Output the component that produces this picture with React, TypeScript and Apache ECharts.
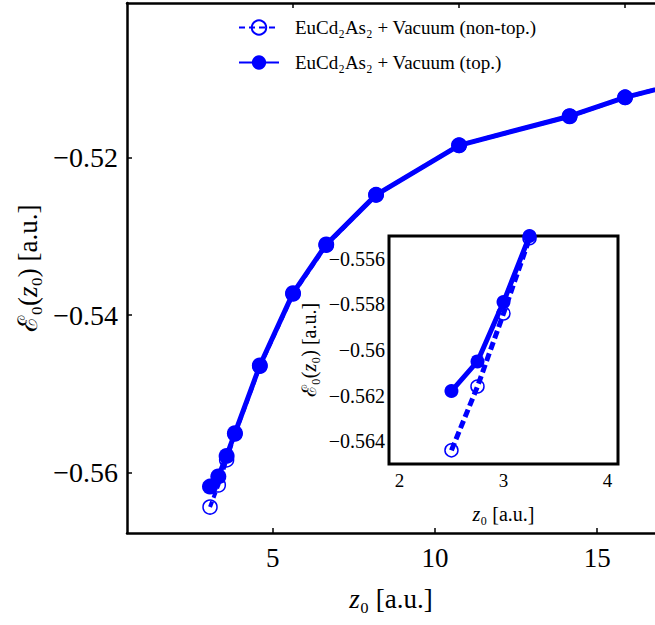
import React, { useEffect, useRef } from "react";
import * as echarts from "echarts";

// Data (z0 in a.u., energy in a.u.)
const zValues = [2.5, 2.75, 3.0, 3.25, 4, 5, 6, 7.5, 10, 13.33, 15, 20];
const energyTop = [-0.5618, -0.5605, -0.5579, -0.555, -0.5464, -0.5372, -0.531, -0.5247, -0.5184, -0.5147, -0.5123, -0.5069];
const energyNonTop = [-0.5644, -0.5616, -0.5584, -0.5551, -0.5465, -0.5373, -0.5311, -0.5247, -0.5184, -0.5147, -0.5123, -0.5069];

const mainXTicks = [5, 10, 15];
const mainYTicks = [-0.56, -0.54, -0.52];
const insetXTicks = [2, 3, 4];
const insetYTicks = [-0.564, -0.562, -0.56, -0.558, -0.556];

const nameNonTop = "EuCd₂As₂ + Vacuum (non-top.)";
const nameTop = "EuCd₂As₂ + Vacuum (top.)";

const BLUE = "#0000ff";
const FONT = "Liberation Serif";

const pairs = (ys: number[]) => zValues.map((z, i) => [z, ys[i]]);

const nameStyle = (size: number) => ({
  fontSize: size,
  color: "#000",
  fontFamily: FONT,
  rich: { i: { fontStyle: "italic", fontFamily: FONT, fontSize: size, color: "#000" } },
});

export default function App() {
  const ref = useRef<HTMLDivElement>(null);
  useEffect(() => {
    document.body.style.margin = "0";
    const chart = echarts.init(ref.current!, null, { renderer: "svg" });
    const axisLine = { show: true, lineStyle: { color: "#000", width: 2.5 } };
    const option: any = {
      animation: false,
      backgroundColor: "#fff",
      textStyle: { fontFamily: FONT, color: "#000" },
      grid: [
        { left: 127, top: 3, width: 528, height: 530 },
        {
          left: 389, top: 236, width: 229, height: 228, show: true,
          borderColor: "#000", borderWidth: 3, backgroundColor: "#fff", z: 5,
        },
      ],
      legend: {
        data: [nameNonTop, nameTop],
        orient: "vertical",
        left: 238,
        top: 18,
        padding: 0,
        itemWidth: 40,
        itemHeight: 18,
        itemGap: 16,
        selectedMode: false,
        textStyle: { fontFamily: FONT, fontSize: 19, color: "#000", padding: [0, 0, 0, 11] },
      },
      xAxis: [
        {
          gridIndex: 0, type: "value", position: "bottom", min: 0.513, max: 16.78,
          axisLine,
          axisTick: { show: true, inside: true, length: 5, lineStyle: { color: "#000", width: 1.5 }, customValues: mainXTicks },
          axisLabel: { customValues: mainXTicks, fontSize: 27, color: "#000", fontFamily: FONT, margin: 11 },
          splitLine: { show: false },
          name: "{i|z}₀ [a.u.]",
          nameLocation: "middle",
          nameGap: 52,
          nameTextStyle: nameStyle(27),
        },
        {
          gridIndex: 0, type: "value", position: "top", min: 0, max: 15.9,
          axisLine,
          axisTick: { show: true, inside: true, length: 5, lineStyle: { color: "#000", width: 1.5 }, customValues: mainXTicks },
          axisLabel: { show: false },
          splitLine: { show: false },
        },
        {
          gridIndex: 1, type: "value", position: "bottom", min: 1.9, max: 4.1,
          axisLine: { show: false },
          axisTick: { show: true, inside: true, length: 5, lineStyle: { color: "#000", width: 1.2 }, customValues: insetXTicks },
          axisLabel: { customValues: insetXTicks, fontSize: 19, color: "#000", fontFamily: FONT, margin: 7 },
          splitLine: { show: false },
          name: "{i|z}₀ [a.u.]",
          nameLocation: "middle",
          nameGap: 40,
          nameTextStyle: nameStyle(20),
        },
        {
          gridIndex: 1, type: "value", position: "top", min: 1.9, max: 4.1,
          axisLine: { show: false },
          axisTick: { show: true, inside: true, length: 5, lineStyle: { color: "#000", width: 1.2 }, customValues: insetXTicks },
          axisLabel: { show: false },
          splitLine: { show: false },
        },
      ],
      yAxis: [
        {
          gridIndex: 0, type: "value", position: "left", min: -0.5677, max: -0.5003,
          axisLine,
          axisTick: { show: true, inside: true, length: 5, lineStyle: { color: "#000", width: 1.5 }, customValues: mainYTicks },
          axisLabel: {
            customValues: mainYTicks, fontSize: 28, color: "#000", fontFamily: FONT, margin: 9,
            formatter: (v: number) => "−" + Math.abs(v).toFixed(2),
          },
          splitLine: { show: false },
          name: "ℰ₀({i|z}₀) [a.u.]",
          nameLocation: "middle",
          nameGap: 86,
          nameTextStyle: nameStyle(27),
        },
        {
          gridIndex: 1, type: "value", position: "left", min: -0.565, max: -0.555,
          axisLine: { show: false },
          axisTick: { show: true, inside: true, length: 5, lineStyle: { color: "#000", width: 1.2 }, customValues: insetYTicks },
          axisLabel: {
            customValues: insetYTicks, fontSize: 20, color: "#000", fontFamily: FONT, margin: 4,
            formatter: (v: number) => "−" + String(parseFloat(Math.abs(v).toFixed(3))),
          },
          splitLine: { show: false },
          name: "ℰ₀({i|z}₀) [a.u.]",
          nameLocation: "middle",
          nameGap: 70,
          nameTextStyle: nameStyle(20),
        },
        {
          gridIndex: 1, type: "value", position: "right", min: -0.565, max: -0.555,
          axisLine: { show: false },
          axisTick: { show: true, inside: true, length: 5, lineStyle: { color: "#000", width: 1.2 }, customValues: insetYTicks },
          axisLabel: { show: false },
          splitLine: { show: false },
        },
      ],
      series: [
        {
          name: nameNonTop, type: "line", xAxisIndex: 1, yAxisIndex: 0,
          data: pairs(energyNonTop),
          symbol: "circle", symbolSize: 14,
          itemStyle: { color: "rgba(255,255,255,0)", borderColor: BLUE, borderWidth: 1.5 },
          lineStyle: { color: BLUE, width: 4, type: [6, 4] },
          z: 3,
        },
        {
          name: nameTop, type: "line", xAxisIndex: 1, yAxisIndex: 0,
          data: pairs(energyTop),
          symbol: "circle", symbolSize: 16,
          itemStyle: { color: BLUE },
          lineStyle: { color: BLUE, width: 5 },
          z: 4,
        },
        {
          name: nameNonTop, type: "line", xAxisIndex: 2, yAxisIndex: 1,
          data: pairs(energyNonTop),
          symbol: "circle", symbolSize: 13,
          itemStyle: { color: "rgba(255,255,255,0)", borderColor: BLUE, borderWidth: 1.5 },
          lineStyle: { color: BLUE, width: 5, type: [8, 4] },
          z: 6,
        },
        {
          name: nameTop, type: "line", xAxisIndex: 2, yAxisIndex: 1,
          data: pairs(energyTop),
          symbol: "circle", symbolSize: 14,
          itemStyle: { color: BLUE },
          lineStyle: { color: BLUE, width: 5 },
          z: 7,
        },
      ],
    };
    chart.setOption(option);
    return () => chart.dispose();
  }, []);
  return <div ref={ref} style={{ width: 655, height: 625 }} />;
}
